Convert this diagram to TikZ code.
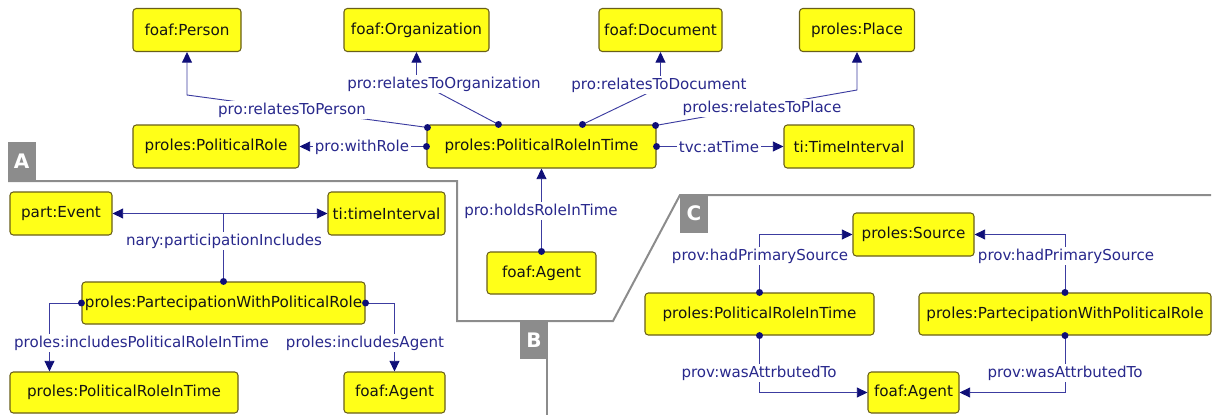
\documentclass[tikz,border=0pt]{standalone}
\usepackage{fontspec}
\setmainfont{DejaVu Sans}
\usetikzlibrary{arrows.meta,calc}
\definecolor{boxfill}{RGB}{255,255,24}
\definecolor{boxdraw}{RGB}{105,95,25}
\definecolor{boxtext}{RGB}{20,20,20}
\definecolor{edgeline}{RGB}{60,60,160}
\definecolor{labtext}{RGB}{40,40,140}
\definecolor{tipcol}{RGB}{15,15,120}
\definecolor{secgray}{RGB}{140,140,140}
\newcommand\mydot[1]{\fill[tipcol] (#1) circle (2.6pt);}
\begin{document}
\begin{tikzpicture}[x=0.75pt,y=-0.75pt,
  box/.style={draw=boxdraw, fill=boxfill, rounded corners=2.5pt, line width=0.8pt,
    inner sep=0pt, text=boxtext, font=\fontsize{11.4}{13}\selectfont, minimum height=32pt},
  bw/.style={minimum width=#1*0.75pt},
  bh/.style={minimum height=#1*0.75pt},
  tip/.style={Triangle[length=8pt,width=7.5pt,color=tipcol,fill=tipcol]},
  edge/.style={draw=edgeline, line width=0.7pt, -{Triangle[length=8pt,width=7.5pt,color=tipcol,fill=tipcol]}},
  lab/.style={fill=white, inner sep=1.2pt, text=labtext, font=\fontsize{11.3}{13}\selectfont},
  seclab/.style={fill=secgray, text=white, font=\bfseries\fontsize{15}{15}\selectfont,
    inner sep=0pt, minimum width=28*0.75pt, minimum height=38*0.75pt},
  secline/.style={draw=secgray, line width=1.5pt}
]
\useasboundingbox (0,0) rectangle (1214,415);

% section separators
\draw[secline] (8,181) -- (457,181) -- (457,321) -- (613,321) -- (680,195) -- (1211,195);
\draw[secline] (547,321) -- (547,415);
\node[seclab] (secA) at (21.5,161) {A};
\node[seclab] (secB) at (534,340) {B};
\node[seclab] (secC) at (694,213.5) {C};

% ---------- B (top) ----------
\node[box,bw=108,bh=43] (person) at (187,30) {foaf:Person};
\node[box,bw=145,bh=43] (org) at (416.5,30) {foaf:Organization};
\node[box,bw=123,bh=43] (doc) at (660.5,30) {foaf:Document};
\node[box,bw=115,bh=43] (place) at (857,30) {proles:Place};
\node[box,bw=166,bh=43] (prole) at (216,146.5) {proles:PoliticalRole};
\node[box,bw=229,bh=43] (prit) at (541.5,146.5) {proles:PoliticalRoleInTime};
\node[box,bw=130,bh=43] (tint) at (849,146.5) {ti:TimeInterval};
\node[box,bw=109,bh=42] (agentB) at (541.5,273) {foaf:Agent};

\coordinate (dperson) at ($(prit.north west)+(1,3)$);
\coordinate (dorg) at ($(prit.north west)+(72,0)$);
\coordinate (ddoc) at ($(prit.north west)+(156,0)$);
\coordinate (dplace) at ($(prit.north east)+(-1,1)$);

\draw[edge] (dperson) -- (person.south |- 0,95) -- (person.south);
\draw[edge] (dorg) -- (org.south |- 0,81) -- (org.south);
\draw[edge] (ddoc) -- (doc.south |- 0,87) -- (doc.south);
\draw[edge] (dplace) -- (place.south |- 0,90) -- (place.south);
\draw[edge] (prit.west) -- (prole.east);
\draw[edge] (prit.east) -- (tint.west);
\draw[edge] (agentB.north) -- (prit.south);

\node[lab] at (292,110) {pro:relatesToPerson};
\node[lab] at (444,84) {pro:relatesToOrganization};
\node[lab] at (659,85) {pro:relatesToDocument};
\node[lab] at (762,108) {proles:relatesToPlace};
\node[lab] at (362,147) {pro:withRole};
\node[lab] at (719,147) {tvc:atTime};
\node[lab] at (541,211) {pro:holdsRoleInTime};

\mydot{dperson}\mydot{dorg}\mydot{ddoc}\mydot{dplace}
\mydot{prit.west}\mydot{prit.east}\mydot{agentB.north}

% ---------- A ----------
\node[box,bw=102,bh=43] (event) at (61,213.5) {part:Event};
\node[box,bw=117,bh=43] (tinterval) at (386.5,213.5) {ti:timeInterval};
\node[box,bw=283,bh=42] (pwprA) at (223.5,303) {\makebox[0pt]{proles:PartecipationWithPoliticalRole}};
\node[box,bw=228,bh=41] (pritA) at (124,392.5) {proles:PoliticalRoleInTime};
\node[box,bw=101,bh=41] (agentA) at (394.5,392.5) {foaf:Agent};

\draw[edge,{Triangle[length=8pt,width=7.5pt,color=tipcol,fill=tipcol]}-{Triangle[length=8pt,width=7.5pt,color=tipcol,fill=tipcol]}]
  (event.east) -- (tinterval.west);
\draw[edge,-] (pwprA.north) -- (pwprA.north |- event.east);
\draw[edge] (pwprA.west) -| ($(pritA.north west)+(40,0)$);
\draw[edge] (pwprA.east) -| (agentA.north);

\node[lab] at (224,241) {nary:participationIncludes};
\node[lab] at (141.5,343) {proles:includesPoliticalRoleInTime};
\node[lab] at (365,343) {proles:includesAgent};

\mydot{pwprA.north}\mydot{pwprA.west}\mydot{pwprA.east}

% ---------- C ----------
\node[box,bw=121,bh=43] (source) at (913.5,234.5) {proles:Source};
\node[box,bw=229,bh=42] (pritC) at (759.5,314) {proles:PoliticalRoleInTime};
\node[box,bw=292,bh=42] (pwprC) at (1065,314) {proles:PartecipationWithPoliticalRole};
\node[box,bw=91,bh=41] (agentC) at (913.5,392.5) {foaf:Agent};

\draw[edge] (pritC.north) |- (source.west);
\draw[edge] (pwprC.north) |- (source.east);
\draw[edge] (pritC.south) |- (agentC.west);
\draw[edge] (pwprC.south) |- (agentC.east);

\node[lab] at (760,256) {prov:hadPrimarySource};
\node[lab] at (1066,256) {prov:hadPrimarySource};
\node[lab] at (759,373) {prov:wasAttrbutedTo};
\node[lab] at (1065,373) {prov:wasAttrbutedTo};

\mydot{pritC.north}\mydot{pwprC.north}\mydot{pritC.south}\mydot{pwprC.south}
\end{tikzpicture}
\end{document}
